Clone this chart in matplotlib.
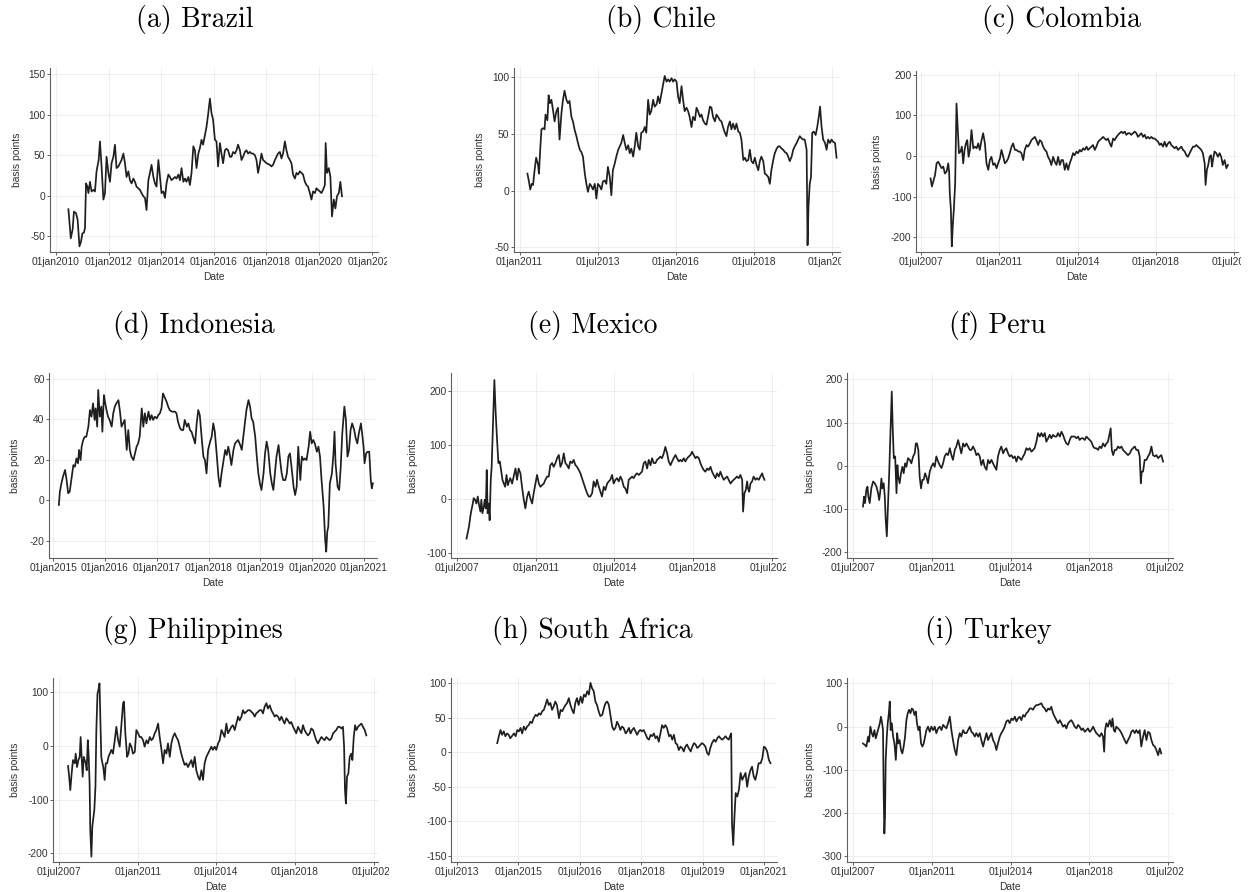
import numpy as np
import matplotlib
matplotlib.use("Agg")
import matplotlib.pyplot as plt
from matplotlib.transforms import Bbox, TransformedBbox

# Spread series (basis points), dates as decimal years
brazil_t = [2010.47, 2010.56, 2010.63, 2010.68, 2010.76, 2010.82, 2010.89, 2010.95, 2011.00, 2011.06,
            2011.10, 2011.14, 2011.19, 2011.23, 2011.29, 2011.35, 2011.42, 2011.48, 2011.54, 2011.62,
            2011.67, 2011.73, 2011.80, 2011.86, 2011.92, 2011.99, 2012.05, 2012.11, 2012.18, 2012.24,
            2012.30, 2012.37, 2012.43, 2012.49, 2012.56, 2012.62, 2012.68, 2012.75, 2012.81, 2012.87,
            2012.94, 2013.00, 2013.06, 2013.19, 2013.25, 2013.32, 2013.38, 2013.44, 2013.51, 2013.57,
            2013.63, 2013.70, 2013.76, 2013.82, 2013.89, 2013.95, 2014.01, 2014.08, 2014.14, 2014.20,
            2014.27, 2014.33, 2014.39, 2014.46, 2014.52, 2014.58, 2014.65, 2014.71, 2014.77, 2014.84,
            2014.90, 2014.96, 2015.03, 2015.09, 2015.15, 2015.22, 2015.28, 2015.34, 2015.41, 2015.47,
            2015.53, 2015.59, 2015.66, 2015.72, 2015.78, 2015.85, 2015.91, 2015.97, 2016.04, 2016.10,
            2016.16, 2016.23, 2016.29, 2016.35, 2016.42, 2016.48, 2016.54, 2016.61, 2016.67, 2016.73,
            2016.80, 2016.86, 2016.92, 2016.99, 2017.05, 2017.11, 2017.18, 2017.24, 2017.30, 2017.37,
            2017.43, 2017.49, 2017.56, 2017.62, 2017.68, 2017.75, 2017.81, 2017.87, 2017.94, 2018.00,
            2018.13, 2018.19, 2018.25, 2018.32, 2018.38, 2018.44, 2018.51, 2018.57, 2018.63, 2018.70,
            2018.76, 2018.82, 2018.89, 2018.95, 2019.01, 2019.08, 2019.14, 2019.20, 2019.27, 2019.33,
            2019.39, 2019.46, 2019.52, 2019.58, 2019.65, 2019.71, 2019.77, 2019.84, 2019.90, 2019.96,
            2020.03, 2020.09, 2020.15, 2020.22, 2020.25, 2020.30, 2020.37, 2020.43, 2020.49, 2020.56,
            2020.62, 2020.68, 2020.75, 2020.81, 2020.87]
brazil_v = [-17, -53, -42, -20, -22, -30, -63, -57, -47, -46,
            -40, 15, 11, 3, 17, 5, 7, 5, 30, 44,
            67, 36, -5, 3, 48, 28, 17, 40, 48, 63,
            34, 36, 40, 44, 52, 40, 23, 30, 19, 15,
            21, 17, 11, 7, 3, -1, -3, -18, 19, 28,
            38, 23, 15, 11, 44, 23, 3, 5, -3, 15,
            26, 23, 19, 21, 23, 21, 26, 19, 34, 17,
            21, 17, 23, 13, 28, 61, 56, 34, 52, 59,
            69, 63, 75, 85, 100, 120, 102, 94, 69, 67,
            36, 65, 52, 40, 56, 58, 56, 48, 48, 54,
            52, 56, 63, 56, 44, 48, 54, 56, 52, 54,
            52, 52, 50, 44, 28, 40, 52, 44, 42, 40,
            38, 36, 38, 44, 48, 52, 54, 46, 52, 67,
            56, 48, 44, 40, 26, 21, 28, 26, 30, 28,
            26, 17, 13, 11, 3, -5, 5, 3, 9, 7,
            5, 3, 7, 13, 65, 28, 34, 23, -26, -5,
            -16, -1, 3, 17, -1]

chile_t = [2011.25, 2011.30, 2011.34, 2011.39, 2011.43, 2011.48, 2011.53, 2011.59, 2011.62, 2011.66,
           2011.70, 2011.75, 2011.80, 2011.83, 2011.89, 2011.93, 2011.97, 2012.02, 2012.07, 2012.12,
           2012.18, 2012.23, 2012.28, 2012.34, 2012.39, 2012.44, 2012.50, 2012.55, 2012.60, 2012.66,
           2012.71, 2012.76, 2012.82, 2012.87, 2012.93, 2012.98, 2013.03, 2013.09, 2013.14, 2013.19,
           2013.25, 2013.30, 2013.35, 2013.41, 2013.46, 2013.51, 2013.57, 2013.62, 2013.67, 2013.73,
           2013.78, 2013.83, 2013.89, 2013.94, 2013.99, 2014.05, 2014.10, 2014.16, 2014.21, 2014.26,
           2014.32, 2014.37, 2014.42, 2014.48, 2014.53, 2014.58, 2014.64, 2014.69, 2014.74, 2014.80,
           2014.85, 2014.90, 2014.96, 2015.01, 2015.06, 2015.12, 2015.17, 2015.22, 2015.28, 2015.33,
           2015.39, 2015.44, 2015.49, 2015.55, 2015.60, 2015.65, 2015.71, 2015.76, 2015.81, 2015.87,
           2015.92, 2015.97, 2016.03, 2016.08, 2016.13, 2016.19, 2016.24, 2016.29, 2016.35, 2016.40,
           2016.45, 2016.51, 2016.56, 2016.62, 2016.67, 2016.72, 2016.78, 2016.83, 2016.88, 2016.94,
           2016.99, 2017.04, 2017.10, 2017.15, 2017.20, 2017.26, 2017.31, 2017.36, 2017.42, 2017.47,
           2017.52, 2017.58, 2017.63, 2017.68, 2017.74, 2017.79, 2017.84, 2017.90, 2017.95, 2018.01,
           2018.06, 2018.11, 2018.17, 2018.22, 2018.27, 2018.33, 2018.38, 2018.43, 2018.49, 2018.54,
           2018.59, 2018.65, 2018.70, 2018.75, 2018.81, 2018.86, 2018.91, 2018.97, 2019.02, 2019.07,
           2019.13, 2019.18, 2019.24, 2019.29, 2019.34, 2019.40, 2019.45, 2019.50, 2019.56, 2019.61,
           2019.66, 2019.72, 2019.77, 2019.82, 2019.88, 2019.93, 2019.98, 2020.04, 2020.09, 2020.14,
           2020.20, 2020.23, 2020.26, 2020.30, 2020.34, 2020.38, 2020.43, 2020.49, 2020.54, 2020.59,
           2020.63, 2020.68, 2020.73, 2020.79, 2020.84, 2020.89, 2020.95, 2021.00, 2021.05, 2021.11,
           2021.16]
chile_v = [15, 8, 1, 6, 5, 18, 29, 23, 15, 36,
           54, 55, 54, 67, 62, 84, 77, 80, 71, 61,
           70, 73, 45, 68, 80, 88, 80, 77, 79, 65,
           61, 54, 48, 42, 36, 34, 30, 15, 6, -1,
           6, 4, 1, 6, -7, 6, 4, 1, 8, 9,
           6, 21, 12, -4, 18, 24, 30, 36, 39, 42,
           49, 42, 36, 40, 33, 37, 30, 39, 51, 39,
           36, 51, 52, 56, 51, 80, 67, 70, 80, 74,
           76, 83, 77, 86, 93, 101, 96, 98, 96, 99,
           96, 98, 96, 83, 77, 92, 80, 70, 73, 70,
           65, 56, 65, 62, 73, 70, 65, 67, 62, 59,
           58, 65, 74, 73, 65, 61, 67, 65, 62, 61,
           56, 51, 48, 56, 61, 54, 59, 54, 59, 52,
           51, 45, 27, 29, 26, 27, 36, 26, 24, 29,
           23, 18, 26, 30, 26, 15, 14, 12, 6, 18,
           27, 33, 37, 39, 39, 37, 36, 34, 33, 30,
           26, 30, 36, 39, 42, 45, 48, 46, 45, 45,
           36, -48, -14, 6, 12, 51, 52, 49, 56, 65,
           74, 56, 45, 42, 36, 45, 42, 45, 43, 42,
           29]

colombia_t = [2007.93, 2007.99, 2008.05, 2008.13, 2008.20, 2008.27, 2008.35, 2008.42, 2008.50, 2008.57,
              2008.65, 2008.72, 2008.76, 2008.79, 2008.84, 2008.88, 2008.93, 2008.97, 2009.03, 2009.09,
              2009.14, 2009.20, 2009.27, 2009.33, 2009.39, 2009.45, 2009.51, 2009.57, 2009.63, 2009.69,
              2009.76, 2009.84, 2009.91, 2009.99, 2010.06, 2010.13, 2010.21, 2010.28, 2010.36, 2010.43,
              2010.51, 2010.58, 2010.65, 2010.73, 2010.80, 2010.88, 2010.95, 2011.03, 2011.10, 2011.18,
              2011.25, 2011.32, 2011.40, 2011.47, 2011.55, 2011.62, 2011.70, 2011.77, 2011.85, 2011.92,
              2011.99, 2012.07, 2012.14, 2012.22, 2012.29, 2012.37, 2012.44, 2012.51, 2012.59, 2012.66,
              2012.74, 2012.81, 2012.89, 2012.96, 2013.04, 2013.11, 2013.18, 2013.26, 2013.33, 2013.41,
              2013.48, 2013.56, 2013.63, 2013.71, 2013.78, 2013.85, 2013.93, 2014.00, 2014.08, 2014.15,
              2014.23, 2014.30, 2014.37, 2014.45, 2014.52, 2014.60, 2014.67, 2014.75, 2014.82, 2014.90,
              2014.97, 2015.04, 2015.12, 2015.19, 2015.27, 2015.34, 2015.42, 2015.49, 2015.57, 2015.64,
              2015.71, 2015.79, 2015.86, 2015.94, 2016.01, 2016.09, 2016.16, 2016.24, 2016.31, 2016.38,
              2016.46, 2016.53, 2016.61, 2016.68, 2016.76, 2016.83, 2016.90, 2016.98, 2017.05, 2017.13,
              2017.20, 2017.28, 2017.35, 2017.43, 2017.50, 2017.57, 2017.65, 2017.72, 2017.80, 2017.87,
              2017.95, 2018.02, 2018.10, 2018.17, 2018.24, 2018.32, 2018.39, 2018.47, 2018.54, 2018.62,
              2018.69, 2018.76, 2018.84, 2018.91, 2018.99, 2019.06, 2019.14, 2019.21, 2019.29, 2019.36,
              2019.43, 2019.51, 2019.58, 2019.66, 2019.73, 2019.81, 2019.88, 2019.96, 2020.03, 2020.10,
              2020.18, 2020.22, 2020.28, 2020.34, 2020.40, 2020.46, 2020.51, 2020.55, 2020.62, 2020.70,
              2020.77, 2020.85, 2020.92, 2020.99, 2021.07, 2021.15, 2021.22]
colombia_v = [-55, -75, -63, -47, -18, -14, -22, -30, -26, -43,
              -38, -18, -38, -92, -133, -222, -165, -133, -67, 129,
              72, 7, 11, 23, -18, 15, 31, 39, -2, 15,
              64, 19, 23, 19, 31, 15, 39, 56, 31, -18,
              -34, -10, -2, -22, -18, -30, -18, -6, 15, -2,
              -18, -14, -6, 7, 23, 31, 15, 15, 11, 11,
              7, -10, 15, 27, 23, 31, 39, 43, 47, 39,
              27, 39, 35, 23, 15, 11, -2, -10, -22, -2,
              -14, -22, -2, -22, -10, -10, -34, -18, -34, -18,
              -6, 7, 2, 11, 7, 15, 11, 19, 15, 23,
              15, 19, 23, 27, 15, 23, 35, 39, 43, 47,
              43, 39, 43, 31, 23, 43, 39, 47, 52, 56,
              60, 56, 60, 52, 56, 56, 52, 56, 60, 56,
              47, 52, 56, 47, 52, 43, 47, 43, 47, 43,
              43, 39, 35, 27, 31, 23, 35, 23, 31, 35,
              27, 23, 19, 23, 15, 19, 23, 15, 11, 2,
              -2, 7, 15, 23, 23, 27, 23, 19, 15, 7,
              -18, -71, -34, -22, -2, 2, -26, -10, 11, 7,
              -2, 7, -2, -22, -10, -30, -22]

indonesia_t = [2015.11, 2015.13, 2015.16, 2015.19, 2015.23, 2015.26, 2015.29, 2015.32, 2015.35, 2015.39,
               2015.42, 2015.45, 2015.48, 2015.50, 2015.53, 2015.55, 2015.58, 2015.61, 2015.64, 2015.68,
               2015.71, 2015.74, 2015.77, 2015.80, 2015.82, 2015.85, 2015.87, 2015.90, 2015.93, 2015.95,
               2015.98, 2016.00, 2016.03, 2016.06, 2016.09, 2016.13, 2016.16, 2016.19, 2016.22, 2016.26,
               2016.29, 2016.32, 2016.35, 2016.38, 2016.42, 2016.45, 2016.48, 2016.51, 2016.55, 2016.58,
               2016.61, 2016.64, 2016.67, 2016.71, 2016.74, 2016.77, 2016.80, 2016.84, 2016.87, 2016.90,
               2016.93, 2016.96, 2017.00, 2017.03, 2017.06, 2017.09, 2017.12, 2017.16, 2017.19, 2017.22,
               2017.25, 2017.29, 2017.32, 2017.35, 2017.38, 2017.41, 2017.45, 2017.48, 2017.51, 2017.54,
               2017.58, 2017.61, 2017.64, 2017.67, 2017.70, 2017.74, 2017.77, 2017.80, 2017.83, 2017.87,
               2017.90, 2017.93, 2017.96, 2017.99, 2018.03, 2018.06, 2018.09, 2018.12, 2018.16, 2018.19,
               2018.22, 2018.25, 2018.28, 2018.32, 2018.35, 2018.38, 2018.41, 2018.44, 2018.48, 2018.51,
               2018.54, 2018.57, 2018.61, 2018.64, 2018.67, 2018.70, 2018.73, 2018.77, 2018.80, 2018.83,
               2018.86, 2018.90, 2018.93, 2018.96, 2018.99, 2019.02, 2019.06, 2019.09, 2019.12, 2019.15,
               2019.19, 2019.22, 2019.25, 2019.28, 2019.31, 2019.35, 2019.38, 2019.41, 2019.44, 2019.48,
               2019.51, 2019.54, 2019.57, 2019.60, 2019.64, 2019.67, 2019.70, 2019.73, 2019.77, 2019.80,
               2019.83, 2019.86, 2019.89, 2019.93, 2019.96, 2019.99, 2020.02, 2020.05, 2020.09, 2020.12,
               2020.15, 2020.18, 2020.22, 2020.25, 2020.27, 2020.29, 2020.31, 2020.34, 2020.38, 2020.41,
               2020.43, 2020.45, 2020.49, 2020.52, 2020.55, 2020.58, 2020.62, 2020.65, 2020.68, 2020.71,
               2020.74, 2020.77, 2020.81, 2020.84, 2020.87, 2020.90, 2020.94, 2020.97, 2020.99, 2021.01,
               2021.04, 2021.07, 2021.10, 2021.13, 2021.15, 2021.17]
indonesia_v = [-2.3, 4.3, 8.4, 11.7, 15.0, 10.0, 3.5, 4.3, 10.0, 17.4,
               16.6, 20.7, 18.3, 24.9, 19.9, 26.5, 29.8, 31.4, 31.4, 36.4,
               44.6, 41.3, 47.9, 39.7, 45.4, 36.4, 54.5, 41.3, 46.3, 33.9,
               52.0, 48.7, 44.6, 41.3, 39.7, 36.4, 43.0, 46.3, 47.9, 49.5,
               43.8, 36.4, 38.0, 39.7, 24.9, 34.7, 24.9, 21.6, 19.9, 23.2,
               26.5, 28.1, 31.4, 45.4, 36.4, 43.0, 38.0, 43.8, 39.7, 42.1,
               39.7, 41.3, 40.5, 42.1, 43.0, 45.4, 52.8, 50.4, 48.7, 46.3,
               44.6, 43.8, 43.8, 43.8, 43.0, 38.8, 35.6, 34.7, 34.7, 39.7,
               36.4, 38.0, 34.7, 33.9, 31.4, 28.1, 38.0, 44.6, 42.1, 29.8,
               21.6, 19.9, 13.3, 24.9, 29.0, 31.4, 38.0, 33.9, 21.6, 11.7,
               6.7, 13.3, 18.3, 24.9, 22.4, 26.5, 22.4, 17.4, 24.9, 28.1,
               29.0, 29.8, 27.3, 24.9, 31.4, 38.0, 44.6, 49.5, 46.3, 40.5,
               38.8, 31.4, 21.6, 13.3, 8.4, 5.1, 13.3, 23.2, 29.0, 24.9,
               13.3, 8.4, 5.1, 13.3, 21.6, 27.3, 19.9, 13.3, 10.0, 10.0,
               13.3, 21.6, 23.2, 16.6, 6.7, 2.6, 6.7, 26.5, 10.0, 21.6,
               19.9, 20.7, 19.9, 26.5, 33.9, 28.1, 29.8, 28.1, 24.0, 26.5,
               21.6, 10.0, -3.1, -19.6, -25.4, -15.5, -13.0, 8.4, 13.3, 23.2,
               33.9, 18.3, 6.7, 5.1, 16.6, 33.1, 46.3, 39.7, 21.6, 24.9,
               34.7, 38.0, 34.7, 30.6, 28.1, 33.1, 38.0, 31.4, 26.5, 18.3,
               23.2, 24.0, 24.0, 10.0, 5.9, 8.4]

mexico_t = [2007.92, 2007.97, 2008.03, 2008.09, 2008.14, 2008.20, 2008.24, 2008.30, 2008.36, 2008.42,
            2008.48, 2008.54, 2008.58, 2008.63, 2008.69, 2008.73, 2008.78, 2008.82, 2008.86, 2008.91,
            2008.95, 2009.00, 2009.04, 2009.10, 2009.16, 2009.22, 2009.28, 2009.34, 2009.40, 2009.46,
            2009.52, 2009.58, 2009.64, 2009.70, 2009.76, 2009.81, 2009.87, 2009.95, 2010.02, 2010.10,
            2010.17, 2010.24, 2010.32, 2010.39, 2010.47, 2010.54, 2010.62, 2010.69, 2010.76, 2010.84,
            2010.91, 2010.99, 2011.06, 2011.14, 2011.21, 2011.28, 2011.36, 2011.43, 2011.51, 2011.58,
            2011.65, 2011.73, 2011.80, 2011.88, 2011.95, 2012.03, 2012.10, 2012.17, 2012.25, 2012.32,
            2012.40, 2012.47, 2012.54, 2012.62, 2012.69, 2012.77, 2012.84, 2012.92, 2012.99, 2013.06,
            2013.14, 2013.21, 2013.29, 2013.36, 2013.43, 2013.51, 2013.58, 2013.66, 2013.73, 2013.81,
            2013.88, 2013.95, 2014.03, 2014.10, 2014.18, 2014.25, 2014.32, 2014.40, 2014.47, 2014.55,
            2014.62, 2014.70, 2014.77, 2014.84, 2014.92, 2014.99, 2015.07, 2015.14, 2015.22, 2015.29,
            2015.36, 2015.44, 2015.51, 2015.59, 2015.66, 2015.73, 2015.81, 2015.88, 2015.96, 2016.03,
            2016.11, 2016.18, 2016.25, 2016.33, 2016.40, 2016.48, 2016.55, 2016.62, 2016.70, 2016.77,
            2016.85, 2016.92, 2017.00, 2017.07, 2017.14, 2017.22, 2017.29, 2017.37, 2017.44, 2017.51,
            2017.59, 2017.66, 2017.74, 2017.81, 2017.89, 2017.96, 2018.03, 2018.11, 2018.18, 2018.26,
            2018.33, 2018.40, 2018.48, 2018.55, 2018.63, 2018.70, 2018.78, 2018.85, 2018.92, 2019.00,
            2019.07, 2019.15, 2019.22, 2019.30, 2019.37, 2019.44, 2019.52, 2019.59, 2019.67, 2019.74,
            2019.81, 2019.89, 2019.96, 2020.04, 2020.11, 2020.19, 2020.23, 2020.29, 2020.35, 2020.41,
            2020.45, 2020.50, 2020.56, 2020.63, 2020.70, 2020.78, 2020.85, 2020.93, 2021.00, 2021.08,
            2021.12, 2021.18]
mexico_v = [-74, -64, -52, -33, -21, -9, 1, -2, -9, 4,
            -12, -24, -2, -27, -15, -2, -18, 53, -27, -9,
            -40, 35, 59, 140, 220, 158, 109, 66, 69, 53,
            35, 28, 22, 44, 25, 32, 38, 28, 41, 56,
            35, 56, 47, 22, -2, -18, 4, 13, 1, -9,
            10, 28, 44, 28, 22, 25, 28, 35, 41, 41,
            62, 66, 59, 66, 75, 81, 59, 66, 84, 66,
            62, 56, 69, 66, 72, 62, 59, 53, 47, 38,
            28, 19, 10, 4, 4, 10, 32, 22, 35, 22,
            13, 4, 22, 16, 28, 32, 35, 44, 28, 35,
            38, 32, 41, 35, 22, 19, 10, 35, 38, 41,
            38, 44, 47, 44, 47, 50, 66, 69, 56, 72,
            62, 75, 66, 66, 72, 75, 78, 75, 84, 96,
            84, 69, 62, 69, 75, 81, 75, 69, 72, 69,
            75, 69, 75, 78, 81, 87, 81, 75, 78, 75,
            66, 59, 53, 50, 56, 53, 59, 50, 44, 38,
            47, 41, 50, 41, 35, 38, 41, 35, 28, 32,
            35, 38, 41, 38, 44, 35, -24, 10, 16, 32,
            19, 13, 28, 32, 41, 35, 38, 35, 41, 47,
            41, 35]

peru_t = [2007.94, 2007.99, 2008.03, 2008.09, 2008.14, 2008.18, 2008.24, 2008.31, 2008.39, 2008.46,
          2008.54, 2008.61, 2008.66, 2008.71, 2008.76, 2008.80, 2008.86, 2008.91, 2008.95, 2009.00,
          2009.04, 2009.10, 2009.16, 2009.22, 2009.26, 2009.31, 2009.37, 2009.43, 2009.47, 2009.51,
          2009.57, 2009.63, 2009.69, 2009.75, 2009.81, 2009.87, 2009.94, 2010.02, 2010.09, 2010.17,
          2010.24, 2010.29, 2010.34, 2010.40, 2010.46, 2010.52, 2010.58, 2010.64, 2010.70, 2010.76,
          2010.83, 2010.91, 2010.98, 2011.06, 2011.13, 2011.20, 2011.28, 2011.35, 2011.43, 2011.50,
          2011.57, 2011.65, 2011.72, 2011.80, 2011.87, 2011.94, 2012.02, 2012.09, 2012.17, 2012.24,
          2012.31, 2012.39, 2012.46, 2012.54, 2012.61, 2012.69, 2012.76, 2012.83, 2012.91, 2012.98,
          2013.06, 2013.13, 2013.20, 2013.28, 2013.35, 2013.43, 2013.50, 2013.57, 2013.65, 2013.72,
          2013.80, 2013.87, 2013.94, 2014.02, 2014.09, 2014.17, 2014.24, 2014.31, 2014.39, 2014.46,
          2014.54, 2014.61, 2014.69, 2014.76, 2014.83, 2014.91, 2014.98, 2015.06, 2015.13, 2015.20,
          2015.28, 2015.35, 2015.43, 2015.50, 2015.57, 2015.65, 2015.72, 2015.80, 2015.87, 2015.94,
          2016.02, 2016.09, 2016.17, 2016.24, 2016.31, 2016.39, 2016.46, 2016.54, 2016.61, 2016.69,
          2016.76, 2016.83, 2016.91, 2016.98, 2017.06, 2017.13, 2017.20, 2017.28, 2017.35, 2017.43,
          2017.50, 2017.57, 2017.65, 2017.72, 2017.80, 2017.87, 2017.94, 2018.02, 2018.09, 2018.17,
          2018.24, 2018.31, 2018.39, 2018.46, 2018.54, 2018.61, 2018.69, 2018.76, 2018.83, 2018.91,
          2018.95, 2019.00, 2019.06, 2019.13, 2019.20, 2019.28, 2019.35, 2019.43, 2019.50, 2019.57,
          2019.65, 2019.72, 2019.80, 2019.87, 2019.94, 2020.02, 2020.09, 2020.17, 2020.24, 2020.29,
          2020.33, 2020.39, 2020.46, 2020.54, 2020.61, 2020.69, 2020.76, 2020.83, 2020.91, 2020.98,
          2021.06, 2021.13, 2021.20, 2021.28]
peru_v = [-94, -71, -86, -55, -48, -71, -86, -52, -36, -40,
          -48, -63, -79, -59, -29, -52, -40, -71, -125, -163,
          -109, -25, 76, 172, 91, 18, 22, -63, 2, -25,
          -40, -17, -2, -17, 6, -2, 18, 14, 6, 22,
          29, 52, 52, 37, -25, -52, -32, -32, -17, -25,
          -40, -13, -2, 6, -2, 22, 10, 2, -5, 6,
          22, 29, 25, 41, 25, 14, 37, 45, 60, 45,
          29, 52, 45, 52, 45, 37, 37, 45, 37, 25,
          29, 22, 2, 14, -2, -9, 14, 6, 14, 6,
          -2, -9, 22, 37, 45, 29, 37, 41, 29, 22,
          25, 18, 22, 10, 22, 18, 14, 22, 29, 41,
          37, 41, 33, 37, 41, 56, 76, 68, 76, 68,
          76, 56, 64, 72, 64, 72, 68, 68, 76, 68,
          79, 72, 60, 52, 49, 60, 68, 68, 68, 64,
          68, 60, 64, 64, 60, 68, 64, 60, 56, 45,
          41, 41, 37, 45, 41, 52, 45, 52, 56, 76,
          87, 37, 25, 37, 37, 45, 41, 45, 37, 33,
          29, 25, 29, 37, 41, 45, 37, 37, 22, -40,
          -13, -13, 14, 14, 22, 29, 45, 25, 22, 25,
          18, 22, 25, 10]

philippines_t = [2007.90, 2007.95, 2008.00, 2008.06, 2008.12, 2008.20, 2008.24, 2008.30, 2008.36, 2008.42,
                 2008.46, 2008.51, 2008.55, 2008.60, 2008.64, 2008.69, 2008.73, 2008.78, 2008.82, 2008.86,
                 2008.89, 2008.94, 2008.98, 2009.03, 2009.07, 2009.12, 2009.16, 2009.21, 2009.25, 2009.30,
                 2009.34, 2009.38, 2009.43, 2009.47, 2009.53, 2009.58, 2009.64, 2009.70, 2009.76, 2009.83,
                 2009.90, 2009.98, 2010.05, 2010.13, 2010.20, 2010.27, 2010.35, 2010.39, 2010.45, 2010.53,
                 2010.59, 2010.65, 2010.72, 2010.79, 2010.87, 2010.94, 2011.02, 2011.09, 2011.16, 2011.24,
                 2011.31, 2011.39, 2011.46, 2011.54, 2011.61, 2011.68, 2011.76, 2011.83, 2011.91, 2011.98,
                 2012.06, 2012.13, 2012.20, 2012.28, 2012.35, 2012.43, 2012.50, 2012.57, 2012.65, 2012.72,
                 2012.80, 2012.87, 2012.94, 2013.02, 2013.09, 2013.17, 2013.24, 2013.32, 2013.39, 2013.46,
                 2013.54, 2013.61, 2013.69, 2013.76, 2013.84, 2013.91, 2013.98, 2014.06, 2014.13, 2014.21,
                 2014.28, 2014.35, 2014.43, 2014.50, 2014.58, 2014.65, 2014.73, 2014.80, 2014.87, 2014.95,
                 2015.02, 2015.10, 2015.17, 2015.24, 2015.32, 2015.39, 2015.47, 2015.54, 2015.62, 2015.69,
                 2015.76, 2015.84, 2015.91, 2015.99, 2016.06, 2016.14, 2016.21, 2016.28, 2016.36, 2016.43,
                 2016.51, 2016.58, 2016.65, 2016.73, 2016.80, 2016.88, 2016.95, 2017.03, 2017.10, 2017.17,
                 2017.25, 2017.32, 2017.40, 2017.47, 2017.54, 2017.62, 2017.69, 2017.77, 2017.84, 2017.92,
                 2017.99, 2018.06, 2018.14, 2018.21, 2018.29, 2018.36, 2018.43, 2018.51, 2018.58, 2018.66,
                 2018.73, 2018.81, 2018.88, 2018.95, 2019.03, 2019.10, 2019.18, 2019.25, 2019.32, 2019.40,
                 2019.47, 2019.55, 2019.62, 2019.70, 2019.77, 2019.84, 2019.92, 2019.99, 2020.07, 2020.14,
                 2020.19, 2020.23, 2020.27, 2020.32, 2020.38, 2020.44, 2020.51, 2020.56, 2020.62, 2020.68,
                 2020.74, 2020.81, 2020.88, 2020.96, 2021.03, 2021.11, 2021.18]
philippines_v = [-37, -57, -82, -51, -26, -32, -14, -39, -26, -20,
                 17, -26, -57, -20, -26, -32, -45, 11, -20, -70,
                 -157, -206, -150, -132, -119, -76, 30, 98, 104, 117,
                 48, -20, -32, -39, -63, -32, -32, -20, -14, -7,
                 -14, 11, 36, 11, -1, 36, 80, 83, 24, -20,
                 -14, 5, -1, -14, -11, 30, 24, 17, 17, 11,
                 -1, 11, 5, 17, 11, 14, 24, 30, 42, 17,
                 -7, -32, -7, -14, 5, -20, 5, 17, 24, 17,
                 11, -1, -14, -26, -35, -32, -39, -32, -26, -39,
                 -20, -45, -57, -63, -45, -63, -32, -20, -14, -7,
                 -1, -7, -1, -7, 5, 11, 30, 24, 17, 42,
                 24, 30, 36, 39, 30, 42, 55, 48, 55, 67,
                 61, 64, 67, 67, 64, 61, 55, 61, 64, 67,
                 67, 61, 73, 80, 70, 76, 67, 61, 55, 58,
                 55, 48, 55, 48, 42, 52, 48, 42, 45, 36,
                 30, 24, 36, 30, 24, 39, 30, 24, 20, 24,
                 33, 30, 20, 11, 5, 11, 17, 14, 11, 17,
                 14, 11, 14, 24, 27, 30, 36, 36, 33, 36,
                 -1, -82, -107, -57, -51, -20, -14, -26, 17, 39,
                 30, 36, 39, 42, 36, 30, 20]

south_africa_t = [2014.48, 2014.52, 2014.56, 2014.60, 2014.64, 2014.68, 2014.72, 2014.76, 2014.80, 2014.84,
                  2014.89, 2014.93, 2014.97, 2015.01, 2015.05, 2015.09, 2015.13, 2015.17, 2015.21, 2015.25,
                  2015.29, 2015.33, 2015.37, 2015.42, 2015.46, 2015.50, 2015.54, 2015.58, 2015.62, 2015.66,
                  2015.70, 2015.74, 2015.78, 2015.82, 2015.86, 2015.90, 2015.94, 2015.99, 2016.03, 2016.07,
                  2016.11, 2016.15, 2016.19, 2016.23, 2016.27, 2016.31, 2016.35, 2016.39, 2016.43, 2016.47,
                  2016.52, 2016.56, 2016.60, 2016.64, 2016.68, 2016.72, 2016.76, 2016.80, 2016.84, 2016.88,
                  2016.92, 2016.96, 2017.00, 2017.05, 2017.09, 2017.13, 2017.17, 2017.21, 2017.25, 2017.29,
                  2017.33, 2017.37, 2017.41, 2017.45, 2017.49, 2017.53, 2017.57, 2017.62, 2017.66, 2017.70,
                  2017.74, 2017.78, 2017.82, 2017.86, 2017.90, 2017.94, 2017.98, 2018.02, 2018.06, 2018.10,
                  2018.15, 2018.19, 2018.23, 2018.27, 2018.31, 2018.35, 2018.39, 2018.43, 2018.47, 2018.51,
                  2018.55, 2018.59, 2018.63, 2018.68, 2018.72, 2018.76, 2018.80, 2018.84, 2018.88, 2018.92,
                  2018.96, 2019.00, 2019.04, 2019.08, 2019.12, 2019.16, 2019.21, 2019.25, 2019.29, 2019.33,
                  2019.37, 2019.41, 2019.45, 2019.49, 2019.53, 2019.57, 2019.61, 2019.65, 2019.69, 2019.73,
                  2019.78, 2019.82, 2019.86, 2019.90, 2019.94, 2019.98, 2020.02, 2020.06, 2020.10, 2020.14,
                  2020.17, 2020.20, 2020.22, 2020.25, 2020.28, 2020.31, 2020.35, 2020.39, 2020.43, 2020.47,
                  2020.51, 2020.55, 2020.59, 2020.63, 2020.67, 2020.71, 2020.75, 2020.79, 2020.83, 2020.87,
                  2020.92, 2020.96, 2021.00, 2021.04, 2021.08, 2021.12, 2021.16]
south_africa_v = [13, 23, 32, 25, 30, 23, 27, 25, 20, 23,
                  27, 23, 32, 30, 35, 27, 37, 32, 37, 39,
                  44, 42, 49, 54, 52, 56, 54, 59, 61, 68,
                  76, 68, 71, 61, 66, 73, 68, 49, 61, 59,
                  64, 68, 71, 78, 68, 61, 56, 71, 78, 68,
                  80, 71, 83, 80, 88, 83, 100, 92, 88, 73,
                  68, 59, 52, 54, 64, 71, 73, 68, 52, 37,
                  32, 35, 44, 39, 32, 37, 35, 27, 30, 35,
                  27, 32, 35, 30, 25, 30, 32, 30, 32, 27,
                  20, 18, 25, 23, 27, 20, 23, 15, 27, 39,
                  35, 39, 35, 23, 25, 18, 25, 13, 11, 3,
                  8, 6, 1, 8, 11, 6, 1, 8, 13, 11,
                  6, 8, 11, 13, 11, 8, -1, -4, 6, 13,
                  18, 15, 20, 23, 20, 18, 20, 23, 20, 18,
                  23, 27, -103, -134, -93, -59, -64, -54, -30, -40,
                  -35, -30, -50, -35, -26, -21, -35, -40, -30, -16,
                  -16, -9, 8, 6, 1, -11, -16]

turkey_t = [2007.94, 2008.02, 2008.09, 2008.17, 2008.21, 2008.27, 2008.33, 2008.39, 2008.45, 2008.51,
            2008.57, 2008.63, 2008.69, 2008.74, 2008.79, 2008.83, 2008.86, 2008.89, 2008.92, 2008.95,
            2009.00, 2009.04, 2009.09, 2009.13, 2009.17, 2009.22, 2009.28, 2009.34, 2009.40, 2009.46,
            2009.51, 2009.57, 2009.63, 2009.69, 2009.75, 2009.81, 2009.87, 2009.93, 2009.99, 2010.05,
            2010.11, 2010.17, 2010.23, 2010.29, 2010.34, 2010.40, 2010.46, 2010.52, 2010.58, 2010.64,
            2010.70, 2010.76, 2010.83, 2010.91, 2010.98, 2011.06, 2011.13, 2011.20, 2011.28, 2011.35,
            2011.43, 2011.50, 2011.57, 2011.65, 2011.72, 2011.80, 2011.87, 2011.94, 2012.02, 2012.09,
            2012.17, 2012.24, 2012.31, 2012.39, 2012.46, 2012.54, 2012.61, 2012.69, 2012.76, 2012.83,
            2012.91, 2012.98, 2013.06, 2013.13, 2013.20, 2013.28, 2013.35, 2013.43, 2013.50, 2013.57,
            2013.65, 2013.72, 2013.80, 2013.87, 2013.94, 2014.02, 2014.09, 2014.17, 2014.24, 2014.31,
            2014.39, 2014.46, 2014.54, 2014.61, 2014.69, 2014.76, 2014.83, 2014.91, 2014.98, 2015.06,
            2015.13, 2015.20, 2015.28, 2015.35, 2015.43, 2015.50, 2015.57, 2015.65, 2015.72, 2015.80,
            2015.87, 2015.94, 2016.02, 2016.09, 2016.17, 2016.24, 2016.31, 2016.39, 2016.46, 2016.54,
            2016.61, 2016.69, 2016.76, 2016.83, 2016.91, 2016.98, 2017.06, 2017.13, 2017.20, 2017.28,
            2017.35, 2017.43, 2017.50, 2017.57, 2017.65, 2017.72, 2017.80, 2017.87, 2017.94, 2018.02,
            2018.09, 2018.17, 2018.24, 2018.31, 2018.39, 2018.46, 2018.54, 2018.61, 2018.66, 2018.70,
            2018.76, 2018.83, 2018.91, 2018.98, 2019.03, 2019.09, 2019.14, 2019.20, 2019.28, 2019.35,
            2019.43, 2019.50, 2019.57, 2019.65, 2019.72, 2019.80, 2019.87, 2019.94, 2020.02, 2020.09,
            2020.17, 2020.24, 2020.31, 2020.39, 2020.46, 2020.54, 2020.61, 2020.69, 2020.76, 2020.83,
            2020.91, 2020.98, 2021.06, 2021.13, 2021.20]
turkey_v = [-39, -42, -46, -23, -35, 0, -15, -23, -8, -27,
            -15, -4, 8, 23, 8, -8, -154, -247, -208, -77,
            -23, 8, 31, 58, -8, 8, -23, -39, -77, -15,
            -39, -31, -54, -62, -46, -23, 15, 31, 39, 31,
            42, 39, 27, 35, 8, -8, 0, -39, -46, -39,
            -23, -8, 0, -12, 0, -8, 0, -15, -4, 0,
            -8, 4, 0, -4, 8, 23, -8, -31, -54, -66,
            -31, -15, -23, -8, -15, -15, -8, 0, -12, -15,
            -23, -15, -23, -15, -31, -46, -31, -15, -31, -23,
            -15, -31, -39, -54, -39, -23, -15, -8, 0, 12,
            15, 8, 19, 15, 23, 12, 19, 23, 15, 27,
            23, 31, 35, 42, 42, 39, 46, 50, 50, 52,
            54, 46, 42, 35, 42, 39, 46, 31, 23, 15,
            8, 15, 8, 0, 4, -4, 8, 12, 15, 8,
            0, -4, 4, 0, -8, -4, -12, -8, -4, -12,
            -8, 0, -8, -15, -19, -23, -15, -23, -58, -8,
            8, 0, 15, 0, 19, -8, -12, 0, -4, -8,
            -15, -23, -31, -39, -31, -23, -12, -8, -15, -8,
            -15, -8, -46, -23, -8, -31, -12, -15, -31, -42,
            -46, -54, -66, -50, -62]

# tick labels in Stata date format
dates_a = ["01jan2010", "01jan2012", "01jan2014", "01jan2016", "01jan2018", "01jan2020", "01jan2022"]
dates_b = ["01jan2011", "01jul2013", "01jan2016", "01jul2018", "01jan2021"]
dates_long = ["01jul2007", "01jan2011", "01jul2014", "01jan2018", "01jul2021"]
dates_d = ["01jan2015", "01jan2016", "01jan2017", "01jan2018", "01jan2019", "01jan2020", "01jan2021"]
dates_h = ["01jul2013", "01jan2015", "01jul2016", "01jan2018", "01jul2019", "01jan2021"]

W, H = 1259, 892
LINE = "#1f1f1f"
AXC = "#606060"
GRID = "#eeeeee"
TXT = "#333333"


def tick_pos(label):
    return int(label[5:]) + (0.5 if label[2:5] == "jul" else 0.0)


# title, dates, values, box (l, t, r, b px), xlim, ylim, yticks, xtick labels,
# ylabel centre x, title centre x, label clip edge x
panels = [
    ("(a) Brazil", brazil_t, brazil_v, (50, 68, 378, 252), (2009.77, 2022.24), (-70, 158),
     [-50, 0, 50, 100, 150], dates_a, 17, 195, 387),
    ("(b) Chile", chile_t, chile_v, (514, 68, 840, 252), (2010.82, 2021.27), (-54, 108),
     [-50, 0, 50, 100], dates_b, 480, 661, 841),
    ("(c) Colombia", colombia_t, colombia_v, (916, 71, 1238, 252), (2007.28, 2021.67), (-236, 209),
     [-200, -100, 0, 100, 200], dates_long, 877, 1062, 1241),
    ("(d) Indonesia", indonesia_t, indonesia_v, (49, 373, 377, 558), (2014.92, 2021.25), (-28.5, 62.9),
     [-20, 0, 20, 40, 60], dates_d, 15, 194, 420),
    ("(e) Mexico", mexico_t, mexico_v, (451, 373, 777, 558), (2007.23, 2021.74), (-110, 233),
     [-100, 0, 100, 200], dates_long, 413, 593, 786),
    ("(f) Peru", peru_t, peru_v, (847, 373, 1173, 558), (2007.23, 2021.72), (-213, 215),
     [-200, -100, 0, 100, 200], dates_long, 810, 997, 1184),
    ("(g) Philippines", philippines_t, philippines_v, (53, 678, 378, 862), (2007.23, 2021.70), (-216, 127),
     [-200, -100, 0, 100], dates_long, 15, 193, 389),
    ("(h) South Africa", south_africa_t, south_africa_v, (451, 678, 777, 862), (2013.35, 2021.32), (-158.5, 107),
     [-150, -100, -50, 0, 50, 100], dates_h, 413, 592, 820),
    ("(i) Turkey", turkey_t, turkey_v, (847, 678, 1173, 862), (2007.23, 2021.72), (-313, 112.5),
     [-300, -200, -100, 0, 100], dates_long, 810, 988, 1184),
]

plt.rcParams["font.family"] = ["Liberation Sans", "DejaVu Sans"]

fig = plt.figure(figsize=(W / 100, H / 100), dpi=100)
fig.patch.set_facecolor("white")

for (title, t, v, box, xlim, ylim, yticks, xlabels, ylab_x, title_x, clip_x) in panels:
    assert len(t) == len(v), title
    l, top, r, b = box
    ax = fig.add_axes([l / W, 1 - b / H, (r - l) / W, (b - top) / H])
    ax.plot(t, v, color=LINE, lw=1.25, solid_joinstyle="round")
    ax.set_xlim(*xlim)
    ax.set_ylim(*ylim)

    xt = [tick_pos(s) for s in xlabels]
    ax.set_xticks(xt)
    ax.set_xticklabels(xlabels)
    ax.set_yticks(yticks)
    ax.set_yticklabels([str(y) for y in yticks])

    ax.grid(True, color=GRID, lw=0.7)
    ax.set_axisbelow(True)
    for side in ("top", "right"):
        ax.spines[side].set_visible(False)
    for side in ("left", "bottom"):
        ax.spines[side].set_color(AXC)
        ax.spines[side].set_linewidth(0.8)
    ax.tick_params(direction="out", length=2.2, width=0.7, color=AXC,
                   labelsize=7.4, labelcolor=TXT)
    ax.tick_params(axis="x", pad=1.6)
    ax.tick_params(axis="y", pad=1.0)

    h = b - top
    ax.set_xlabel("Date", fontsize=7.4, color=TXT)
    ax.xaxis.set_label_coords(0.5, -20 / h)
    ax.set_ylabel("basis points", fontsize=7.4, color=TXT)
    ax.yaxis.set_label_coords((ylab_x + 5 - l) / (r - l), 0.5)

    # panel images are cut at their right edge, so are the date labels
    clip = TransformedBbox(Bbox.from_extents(0, 0, clip_x / W, 1), fig.transFigure)
    for lbl in ax.get_xticklabels():
        lbl.set_clip_box(clip)
        lbl.set_clip_on(True)

    base_y = {68: 27, 71: 27, 373: 333, 678: 638}[top]
    fig.text(title_x / W, 1 - base_y / H, title, ha="center", va="baseline",
             fontsize=20, family="cmr10", color="black")

fig.savefig("out.png", dpi=100, facecolor="white")
